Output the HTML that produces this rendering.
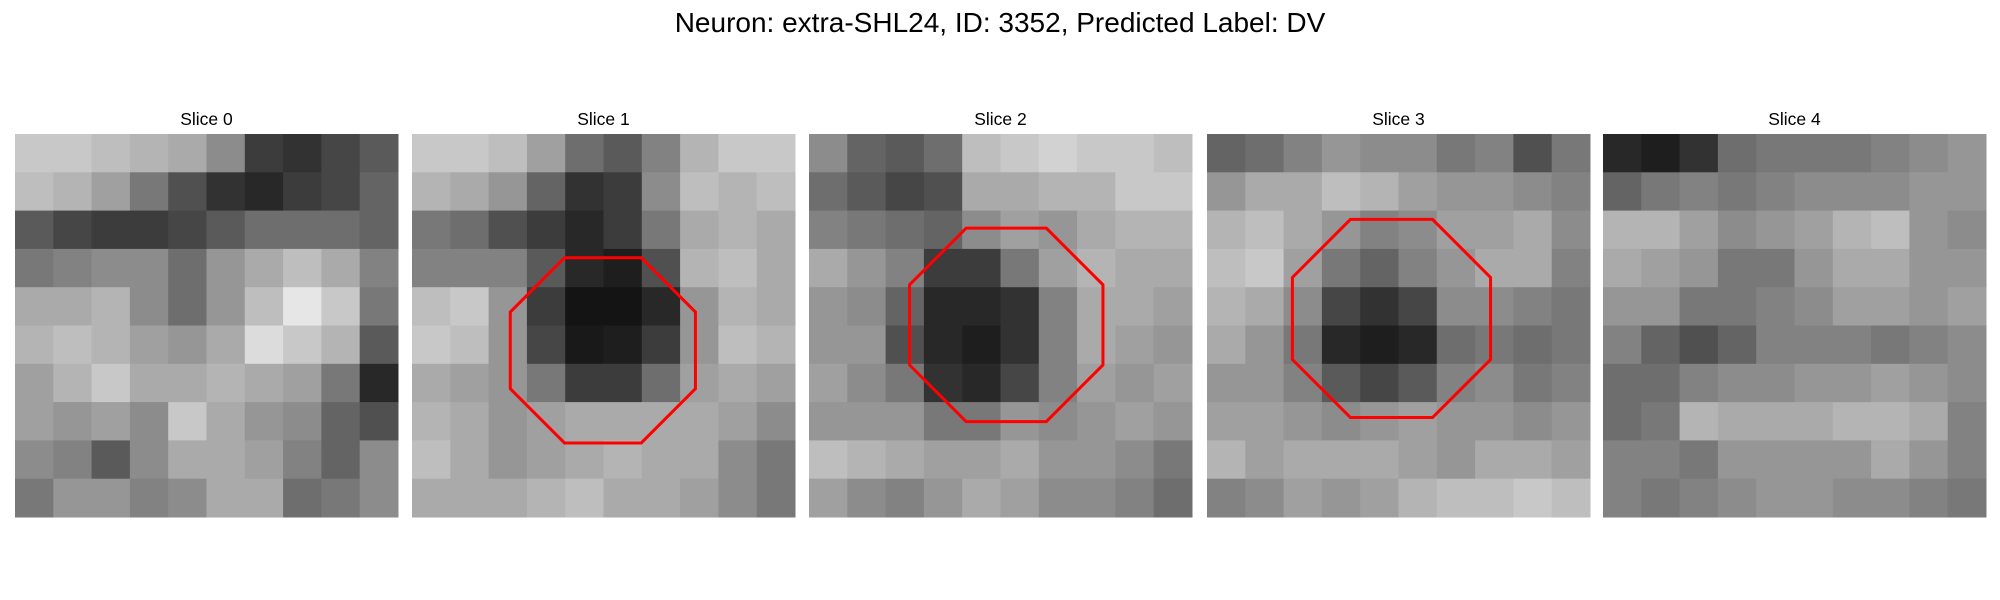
<!DOCTYPE html>
<html><head><meta charset="utf-8"><style>
html,body{margin:0;padding:0;background:#fff;width:2000px;height:600px;overflow:hidden}
svg{display:block;font-family:"Liberation Sans","DejaVu Sans",sans-serif}
</style></head><body>
<svg id="fig" width="2000" height="600" viewBox="0 0 2000 600">
<text x="1000" y="32" text-anchor="middle" font-size="28" fill="#000">Neuron: extra-SHL24, ID: 3352, Predicted Label: DV</text>
</svg>
<script>
const sliceTitles = ["Slice 0","Slice 1","Slice 2","Slice 3","Slice 4"];
const slice0 = [
[200,200,190,180,170,140,60,50,70,90],
[190,180,160,120,80,50,40,60,70,100],
[90,70,60,60,70,90,110,110,110,100],
[120,130,140,140,110,150,170,190,170,130],
[170,170,180,140,110,150,190,230,200,120],
[180,190,180,160,150,170,220,200,180,90],
[160,180,200,170,170,180,170,160,120,40],
[160,150,160,140,200,170,150,140,100,80],
[140,130,90,140,170,170,160,130,100,140],
[120,150,150,130,140,170,170,110,120,140]];
const slice1 = [
[200,200,190,160,110,90,130,180,200,200],
[180,170,150,100,50,60,140,190,180,190],
[120,110,80,60,40,60,120,170,180,170],
[130,130,130,90,40,30,80,180,190,170],
[190,200,150,60,20,20,40,150,180,170],
[200,190,150,70,25,30,60,150,190,180],
[170,160,150,120,60,60,110,160,170,160],
[180,170,150,160,170,170,170,170,160,140],
[190,170,150,160,170,180,170,170,140,120],
[170,170,170,180,190,170,170,160,140,120]];
const slice2 = [
[140,100,90,110,190,200,210,200,200,190],
[110,90,70,80,170,170,180,180,200,200],
[130,120,110,100,140,160,150,170,180,180],
[170,150,130,60,60,120,160,180,170,170],
[150,140,100,40,40,50,130,170,170,160],
[150,150,80,40,30,50,130,170,160,150],
[160,140,120,50,40,70,130,160,150,160],
[150,150,150,120,120,150,140,150,160,150],
[190,180,170,160,160,170,150,150,140,120],
[160,140,130,150,170,160,140,140,130,110]];
const slice3 = [
[100,110,130,150,140,140,120,130,80,120],
[150,170,170,190,180,160,150,150,140,130],
[180,190,170,150,130,140,160,160,170,140],
[190,200,160,120,100,130,150,170,170,130],
[180,170,140,70,50,70,140,140,130,120],
[170,150,120,40,30,40,110,120,110,120],
[150,150,130,90,70,90,130,140,120,130],
[160,160,150,140,150,160,150,150,140,150],
[180,160,170,170,170,160,150,170,170,160],
[130,140,160,150,160,180,190,190,200,190]];
const slice4 = [
[40,30,50,110,120,120,120,130,140,150],
[100,120,130,120,130,140,140,140,150,150],
[180,180,160,140,150,160,180,190,150,140],
[170,160,150,120,120,150,170,170,150,150],
[150,150,120,120,130,140,160,160,150,160],
[130,100,80,100,130,130,130,120,130,140],
[110,110,130,140,140,150,150,160,150,140],
[110,120,180,170,170,170,180,180,170,130],
[130,130,120,150,150,150,150,170,150,130],
[130,120,130,140,150,150,140,140,130,120]];
const slices = [slice0, slice1, slice2, slice3, slice4];
// octagon ROI in image pixel units (0..30): [cx, cy, r] or null
const octCx = [null, 14.95, 15.45, 14.45, null];
const octCy = [null, 16.95, 14.95, 14.45, null];
const octR  = [null, 7.85, 8.2, 8.4, null];

const NS = "http://www.w3.org/2000/svg";
const svg = document.getElementById("fig");
const panelX = [15, 412, 809, 1207, 1603];
const panelY = 134, panelSize = 383, imgUnits = 30;
const sx = (i, u) => panelX[i] + u * panelSize / imgUnits;
const sy = u => panelY + u * panelSize / imgUnits;

slices.forEach((grid, i) => {
  const g = document.createElementNS(NS, "g");
  
  
  svg.appendChild(g);
  const t = document.createElementNS(NS, "text");
  
  
  t.setAttribute("x", panelX[i] + panelSize / 2);
  t.setAttribute("y", 125);
  t.setAttribute("text-anchor", "middle");
  t.setAttribute("font-size", "17.5");
  t.textContent = sliceTitles[i];
  g.appendChild(t);
  const n = grid.length, cu = imgUnits / n;
  grid.forEach((row, r) => row.forEach((v, c) => {
    const rect = document.createElementNS(NS, "rect");
    
    
    const x0 = sx(i, c * cu), x1 = sx(i, (c + 1) * cu);
    const y0 = sy(r * cu), y1 = sy((r + 1) * cu);
    rect.setAttribute("x", x0); rect.setAttribute("y", y0);
    rect.setAttribute("width", x1 - x0 + 0.5); rect.setAttribute("height", y1 - y0 + 0.5);
    rect.setAttribute("fill", `rgb(${v},${v},${v})`);
    g.appendChild(rect);
  }));
  if (octR[i] !== null) {
    const pts = [];
    for (let k = 0; k < 8; k++) {
      const a = (22.5 + 45 * k) * Math.PI / 180;
      pts.push(sx(i, octCx[i] + octR[i] * Math.cos(a)) + "," + sy(octCy[i] + octR[i] * Math.sin(a)));
    }
    const p = document.createElementNS(NS, "polygon");
    
    
    p.setAttribute("points", pts.join(" "));
    p.setAttribute("fill", "none");
    p.setAttribute("stroke", "#ff0000");
    p.setAttribute("stroke-width", "3");
    g.appendChild(p);
  }
});
</script>
</body></html>
